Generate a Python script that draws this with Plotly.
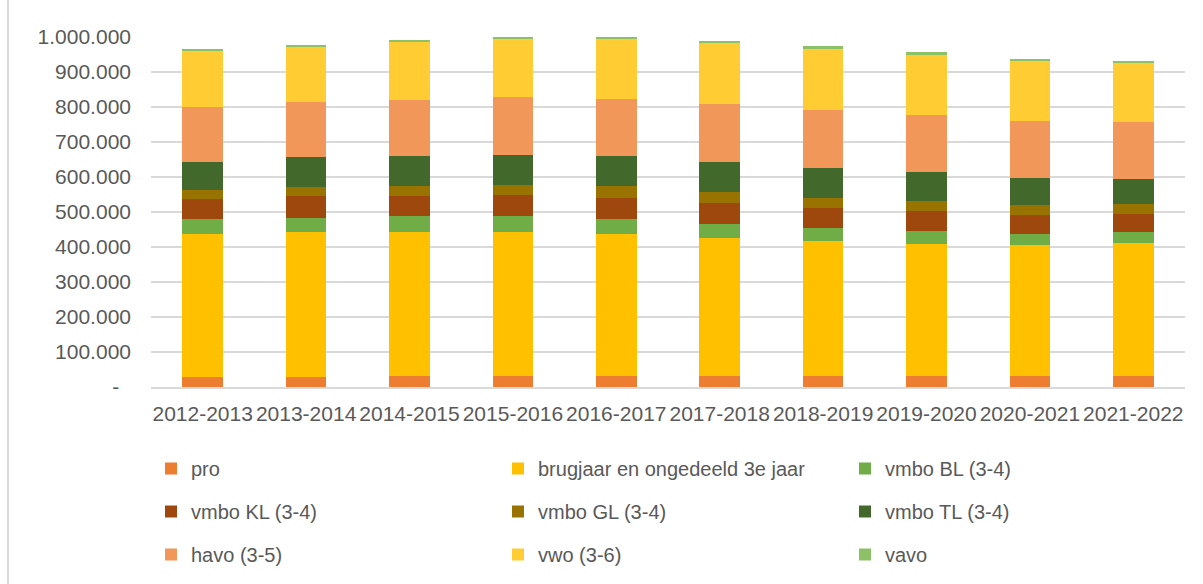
import plotly.graph_objects as go

# School years on the x axis
years = ['2012-2013', '2013-2014', '2014-2015', '2015-2016', '2016-2017',
         '2017-2018', '2018-2019', '2019-2020', '2020-2021', '2021-2022']

# Pupil counts per type
pro = [28000, 28000, 31000, 31000, 31000, 31000, 31000, 31000, 31000, 31000]
brugjaar = [410000, 414000, 411000, 411000, 407000, 396000, 386000, 378000, 375000, 381000]
vmbo_bl = [42000, 42000, 46000, 46000, 42000, 39000, 38000, 36000, 32000, 30000]
vmbo_kl = [57000, 61000, 57000, 61000, 61000, 60000, 57000, 57000, 53000, 53000]
vmbo_gl = [26000, 26000, 29000, 29000, 32000, 31000, 29000, 29000, 29000, 29000]
vmbo_tl = [81000, 86000, 86000, 86000, 86000, 87000, 86000, 82000, 78000, 71000]
havo = [155000, 156000, 161000, 164000, 164000, 164000, 165000, 164000, 162000, 161000]
vwo = [161000, 160000, 164000, 169000, 173000, 175000, 175000, 172000, 174000, 172000]
vavo = [6000, 4000, 7000, 3000, 3000, 7000, 6000, 7000, 4000, 4000]

# y axis ticks, Excel style with dots as thousands separator
tick_vals = [0, 100000, 200000, 300000, 400000, 500000, 600000, 700000, 800000, 900000, 1000000]
tick_text = ['-\u00a0\u00a0', '100.000', '200.000', '300.000', '400.000', '500.000',
             '600.000', '700.000', '800.000', '900.000', '1.000.000']

series = [
    ('pro', pro, '#ED7D31', 'legend'),
    ('brugjaar en ongedeeld 3e jaar', brugjaar, '#FFC000', 'legend2'),
    ('vmbo BL (3-4)', vmbo_bl, '#70AD47', 'legend3'),
    ('vmbo KL (3-4)', vmbo_kl, '#9E480E', 'legend'),
    ('vmbo GL (3-4)', vmbo_gl, '#997300', 'legend2'),
    ('vmbo TL (3-4)', vmbo_tl, '#43682B', 'legend3'),
    ('havo (3-5)', havo, '#F1975A', 'legend'),
    ('vwo (3-6)', vwo, '#FFCD33', 'legend2'),
    ('vavo', vavo, '#8CC168', 'legend3'),
]

FONT = 'Liberation Sans, Arial, sans-serif'
GRAY = '#595959'
GRID = '#d9d9d9'

fig = go.Figure()
for name, vals, color, leg in series:
    fig.add_trace(go.Bar(x=years, y=vals, name=name, legend=leg, legendgroup=name,
                         marker=dict(color=color, line=dict(width=0))))

# three legend columns (Excel lays them out with unequal widths)
legend_style = dict(orientation='v', xanchor='left', yanchor='top',
                    xref='container', yref='container', y=1 - 449 / 584,
                    font=dict(family=FONT, size=20, color=GRAY), itemwidth=30,
                    tracegroupgap=14, bgcolor='rgba(0,0,0,0)', traceorder='grouped')

fig.update_layout(
    width=1203, height=584,
    margin=dict(l=151, r=18, t=37, b=197, autoexpand=False),
    barmode='stack', bargap=0.607,
    plot_bgcolor='white', paper_bgcolor='white',
    font=dict(family=FONT, size=21, color=GRAY),
    legend=dict(x=151 / 1203, **legend_style),
    legend2=dict(x=498 / 1203, **legend_style),
    legend3=dict(x=845 / 1203, **legend_style),
    xaxis=dict(showgrid=False, showline=True, linecolor=GRID, linewidth=2,
               tickfont=dict(family=FONT, size=21, color=GRAY), ticks='',
               ticklabelstandoff=7),
    yaxis=dict(range=[0, 1000000], tickvals=tick_vals, ticktext=tick_text,
               showgrid=True, gridcolor=GRID, gridwidth=2, zeroline=False,
               showline=False, ticks='', ticklabelstandoff=19,
               tickfont=dict(family=FONT, size=21, color=GRAY)),
    shapes=[dict(type='line', xref='paper', yref='paper', x0=-0.1383, x1=-0.1383,
                 y0=-0.6, y1=1.2, line=dict(color=GRID, width=2))],
)

# drop the browser's default 8px body margin so the figure sits at the page corner
fig.write_html("out.html", config={'displayModeBar': False},
               post_script="document.body.style.margin='0';")
